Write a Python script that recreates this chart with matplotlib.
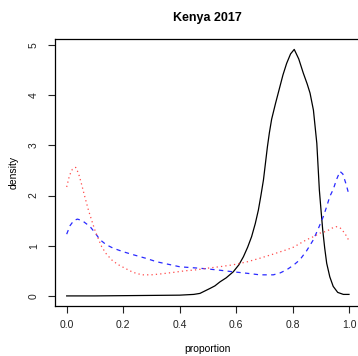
import matplotlib
matplotlib.use('Agg')
import matplotlib.pyplot as plt

plt.rcParams['font.family'] = ['Liberation Sans', 'DejaVu Sans']

# density curves
black_x = [0.0, 0.1, 0.2, 0.3, 0.4, 0.45, 0.472, 0.49, 0.508, 0.525, 0.543, 0.565,
           0.59, 0.61, 0.626, 0.641, 0.655, 0.668, 0.679, 0.688, 0.697, 0.704, 0.711,
           0.718, 0.726, 0.74, 0.753, 0.766, 0.779, 0.793, 0.806, 0.822, 0.838, 0.852,
           0.862, 0.874, 0.886, 0.895, 0.901, 0.907, 0.914, 0.921, 0.932, 0.944, 0.96,
           0.98, 1.0]
black_y = [0.0, 0.0, 0.005, 0.01, 0.015, 0.03, 0.05, 0.1, 0.15, 0.2, 0.28, 0.36,
           0.48, 0.62, 0.78, 0.97, 1.18, 1.44, 1.71, 2.0, 2.31, 2.64, 2.97, 3.25,
           3.52, 3.84, 4.12, 4.40, 4.63, 4.82, 4.91, 4.72, 4.44, 4.22, 4.04, 3.70,
           3.04, 2.11, 1.7, 1.31, 0.95, 0.65, 0.38, 0.19, 0.07, 0.03, 0.03]

blue_x = [0.0, 0.012, 0.025, 0.038, 0.055, 0.083, 0.1, 0.118, 0.14, 0.165, 0.2,
          0.236, 0.28, 0.319, 0.36, 0.401, 0.45, 0.495, 0.545, 0.59, 0.64, 0.684,
          0.732, 0.757, 0.779, 0.803, 0.826, 0.85, 0.874, 0.892, 0.909, 0.921,
          0.932, 0.944, 0.956, 0.968, 0.978, 0.99, 1.0]
blue_y = [1.23, 1.40, 1.50, 1.53, 1.50, 1.38, 1.26, 1.12, 1.02, 0.95, 0.88,
          0.82, 0.75, 0.68, 0.63, 0.58, 0.56, 0.54, 0.51, 0.48, 0.45, 0.42,
          0.42, 0.46, 0.52, 0.61, 0.72, 0.9, 1.12, 1.35, 1.58, 1.78, 1.98, 2.12,
          2.32, 2.48, 2.43, 2.22, 2.01]

red_x = [0.0, 0.01, 0.02, 0.032, 0.042, 0.052, 0.064, 0.077, 0.09, 0.1, 0.112,
         0.124, 0.14, 0.159, 0.18, 0.207, 0.235, 0.266, 0.3, 0.336, 0.38, 0.419,
         0.46, 0.495, 0.54, 0.59, 0.64, 0.684, 0.73, 0.779, 0.803, 0.85, 0.874,
         0.897, 0.921, 0.94, 0.954, 0.968, 0.985, 1.0]
red_y = [2.17, 2.40, 2.52, 2.56, 2.44, 2.24, 1.98, 1.71, 1.48, 1.31, 1.14,
         0.98, 0.84, 0.72, 0.63, 0.55, 0.47, 0.42, 0.42, 0.44, 0.47, 0.50,
         0.52, 0.55, 0.58, 0.62, 0.68, 0.75, 0.83, 0.92, 0.97, 1.12, 1.18,
         1.25, 1.29, 1.35, 1.38, 1.36, 1.25, 1.10]

x_ticks = [0.0, 0.2, 0.4, 0.6, 0.8, 1.0]
y_ticks = [0, 1, 2, 3, 4, 5]

fig = plt.figure(figsize=(3.58, 3.56), dpi=100)
ax = fig.add_axes([0.1547, 0.141, 0.8517, 0.7494])

ax.plot(black_x, black_y, color='black', lw=0.9)
ax.plot(blue_x, blue_y, color='#2a2aff', lw=0.9, dashes=(3.5, 3.5))
ax.plot(red_x, red_y, color='#ff4a4a', lw=0.9, dashes=(1, 2.5))

ax.set_xlim(-0.04, 1.04)
ax.set_ylim(-0.197, 5.117)

ax.set_xticks(x_ticks)
ax.set_xticklabels(['0.0', '0.2', '0.4', '0.6', '0.8', '1.0'])
ax.set_yticks(y_ticks)
ax.set_yticklabels([str(v) for v in y_ticks], rotation=90, va='center')
ax.tick_params(axis='both', length=5, width=0.8, labelsize=7.5, pad=5, colors='#222222')
ax.tick_params(axis='y', pad=7)

for s in ax.spines.values():
    s.set_linewidth(0.9)

ax.set_title('Kenya 2017', fontsize=9, fontweight='bold', pad=13)
ax.set_xlabel('proportion', fontsize=7.5, labelpad=10.5)
ax.set_ylabel('density', fontsize=7.5, labelpad=7)

fig.savefig('out.png', dpi=100)
